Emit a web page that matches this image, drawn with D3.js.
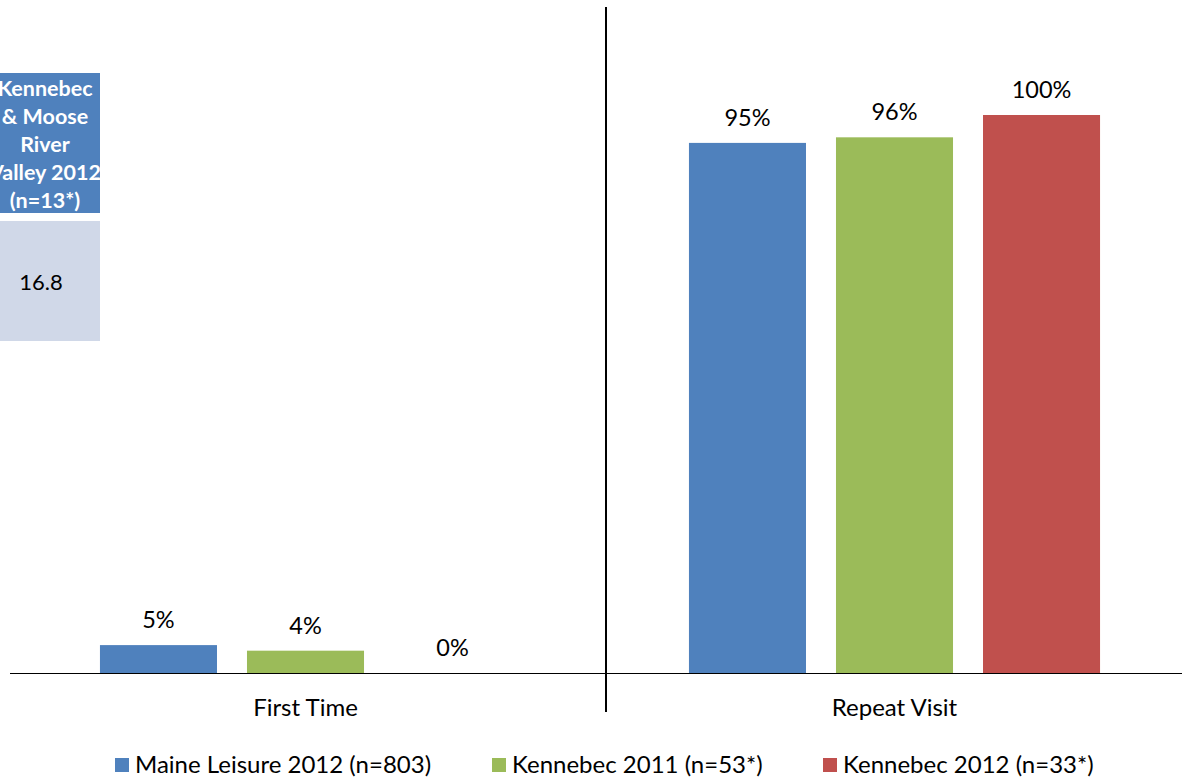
<!DOCTYPE html>
<html>
<head>
<meta charset="utf-8">
<script src="https://cdn.jsdelivr.net/npm/d3@7"></script>
<style>
  body { margin: 0; background: #fff; }
  svg { display: block; font-family: Lato, "Open Sans", sans-serif; }
</style>
</head>
<body>
<div id="chart"></div>
<script>
const categories = ["First Time", "Repeat Visit"];
const seriesNames = ["Maine Leisure 2012 (n=803)", "Kennebec 2011 (n=53*)", "Kennebec 2012 (n=33*)"];
const seriesColors = ["#4f81bd", "#9bbb59", "#c0504d"];
const mainLeisure2012 = [5, 95];
const kennebec2011 = [4, 96];
const kennebec2012 = [0, 100];
const tableHeader = ["Kennebec", "& Moose", "River", "Valley 2012", "(n=13*)"];
const tableValue = "16.8";

const width = 1182, height = 777;
const svg = d3.select("#chart").append("svg")
    .attr("width", width)
    .attr("height", height);

const series = [mainLeisure2012, kennebec2011, kennebec2012];

const x0 = d3.scaleBand().domain(categories).range([11, 1189]).paddingInner(0).paddingOuter(0);
const x1 = d3.scaleBand().domain(d3.range(series.length)).range([0, x0.bandwidth()])
    .paddingInner(0.204).paddingOuter(0.605);
const y = d3.scaleLinear().domain([0, 100]).range([673, 115]);

// bars
categories.forEach((cat, ci) => {
    const g = svg.append("g").attr("transform", `translate(${x0(cat)},0)`);
    series.forEach((vals, si) => {
        g.append("rect")
            .attr("x", x1(si))
            .attr("y", y(vals[ci]))
            .attr("width", x1.bandwidth())
            .attr("height", y(0) - y(vals[ci]))
            .attr("fill", seriesColors[si]);
        g.append("text")
            .attr("x", x1(si) + x1.bandwidth() / 2)
            .attr("y", y(vals[ci]) - 17)
            .attr("text-anchor", "middle")
            .style("font-size", "23.5px")
            .style("fill", "#000")
            .text(vals[ci] + "%");
    });
});

// axis baseline
svg.append("line")
    .attr("x1", 10).attr("x2", width)
    .attr("y1", y(0) + 0.5).attr("y2", y(0) + 0.5)
    .style("stroke", "#000").style("stroke-width", 1);

// divider
svg.append("line")
    .attr("x1", 606).attr("x2", 606)
    .attr("y1", 7).attr("y2", 712)
    .style("stroke", "#000").style("stroke-width", 2);

// category labels
categories.forEach(cat => {
    svg.append("text")
        .attr("x", x0(cat) + x0.bandwidth() / 2)
        .attr("y", 716)
        .attr("text-anchor", "middle")
        .style("font-size", "24px")
        .text(cat);
});

// legend
const legendX = [115, 492, 823];
seriesNames.forEach((name, i) => {
    svg.append("rect")
        .attr("x", legendX[i]).attr("y", 758)
        .attr("width", 14).attr("height", 14)
        .attr("fill", seriesColors[i]);
    svg.append("text")
        .attr("x", legendX[i] + 20)
        .attr("y", 773)
        .style("font-size", "24px")
        .text(name);
});

// stray table fragment at the top left (cut off by the page edge, as in the source)
svg.append("clipPath").attr("id", "cell-clip")
    .append("rect").attr("x", 0).attr("y", 73).attr("width", 100).attr("height", 140);
svg.append("rect")
    .attr("x", 0).attr("y", 73).attr("width", 100).attr("height", 140)
    .attr("fill", "#4f81bd");
svg.append("rect")
    .attr("x", 0).attr("y", 221).attr("width", 100).attr("height", 120)
    .attr("fill", "#d0d8e8");
const head = svg.append("g").attr("clip-path", "url(#cell-clip)");
tableHeader.forEach((t, i) => {
    head.append("text")
        .attr("x", 45)
        .attr("y", 96 + i * 28)
        .attr("text-anchor", "middle")
        .style("font-size", "21.5px")
        .style("font-weight", "bold")
        .style("fill", "#fff")
        .text(t);
});
svg.append("text")
    .attr("x", 41).attr("y", 290)
    .attr("text-anchor", "middle")
    .style("font-size", "22px")
    .text(tableValue);
</script>
</body>
</html>
